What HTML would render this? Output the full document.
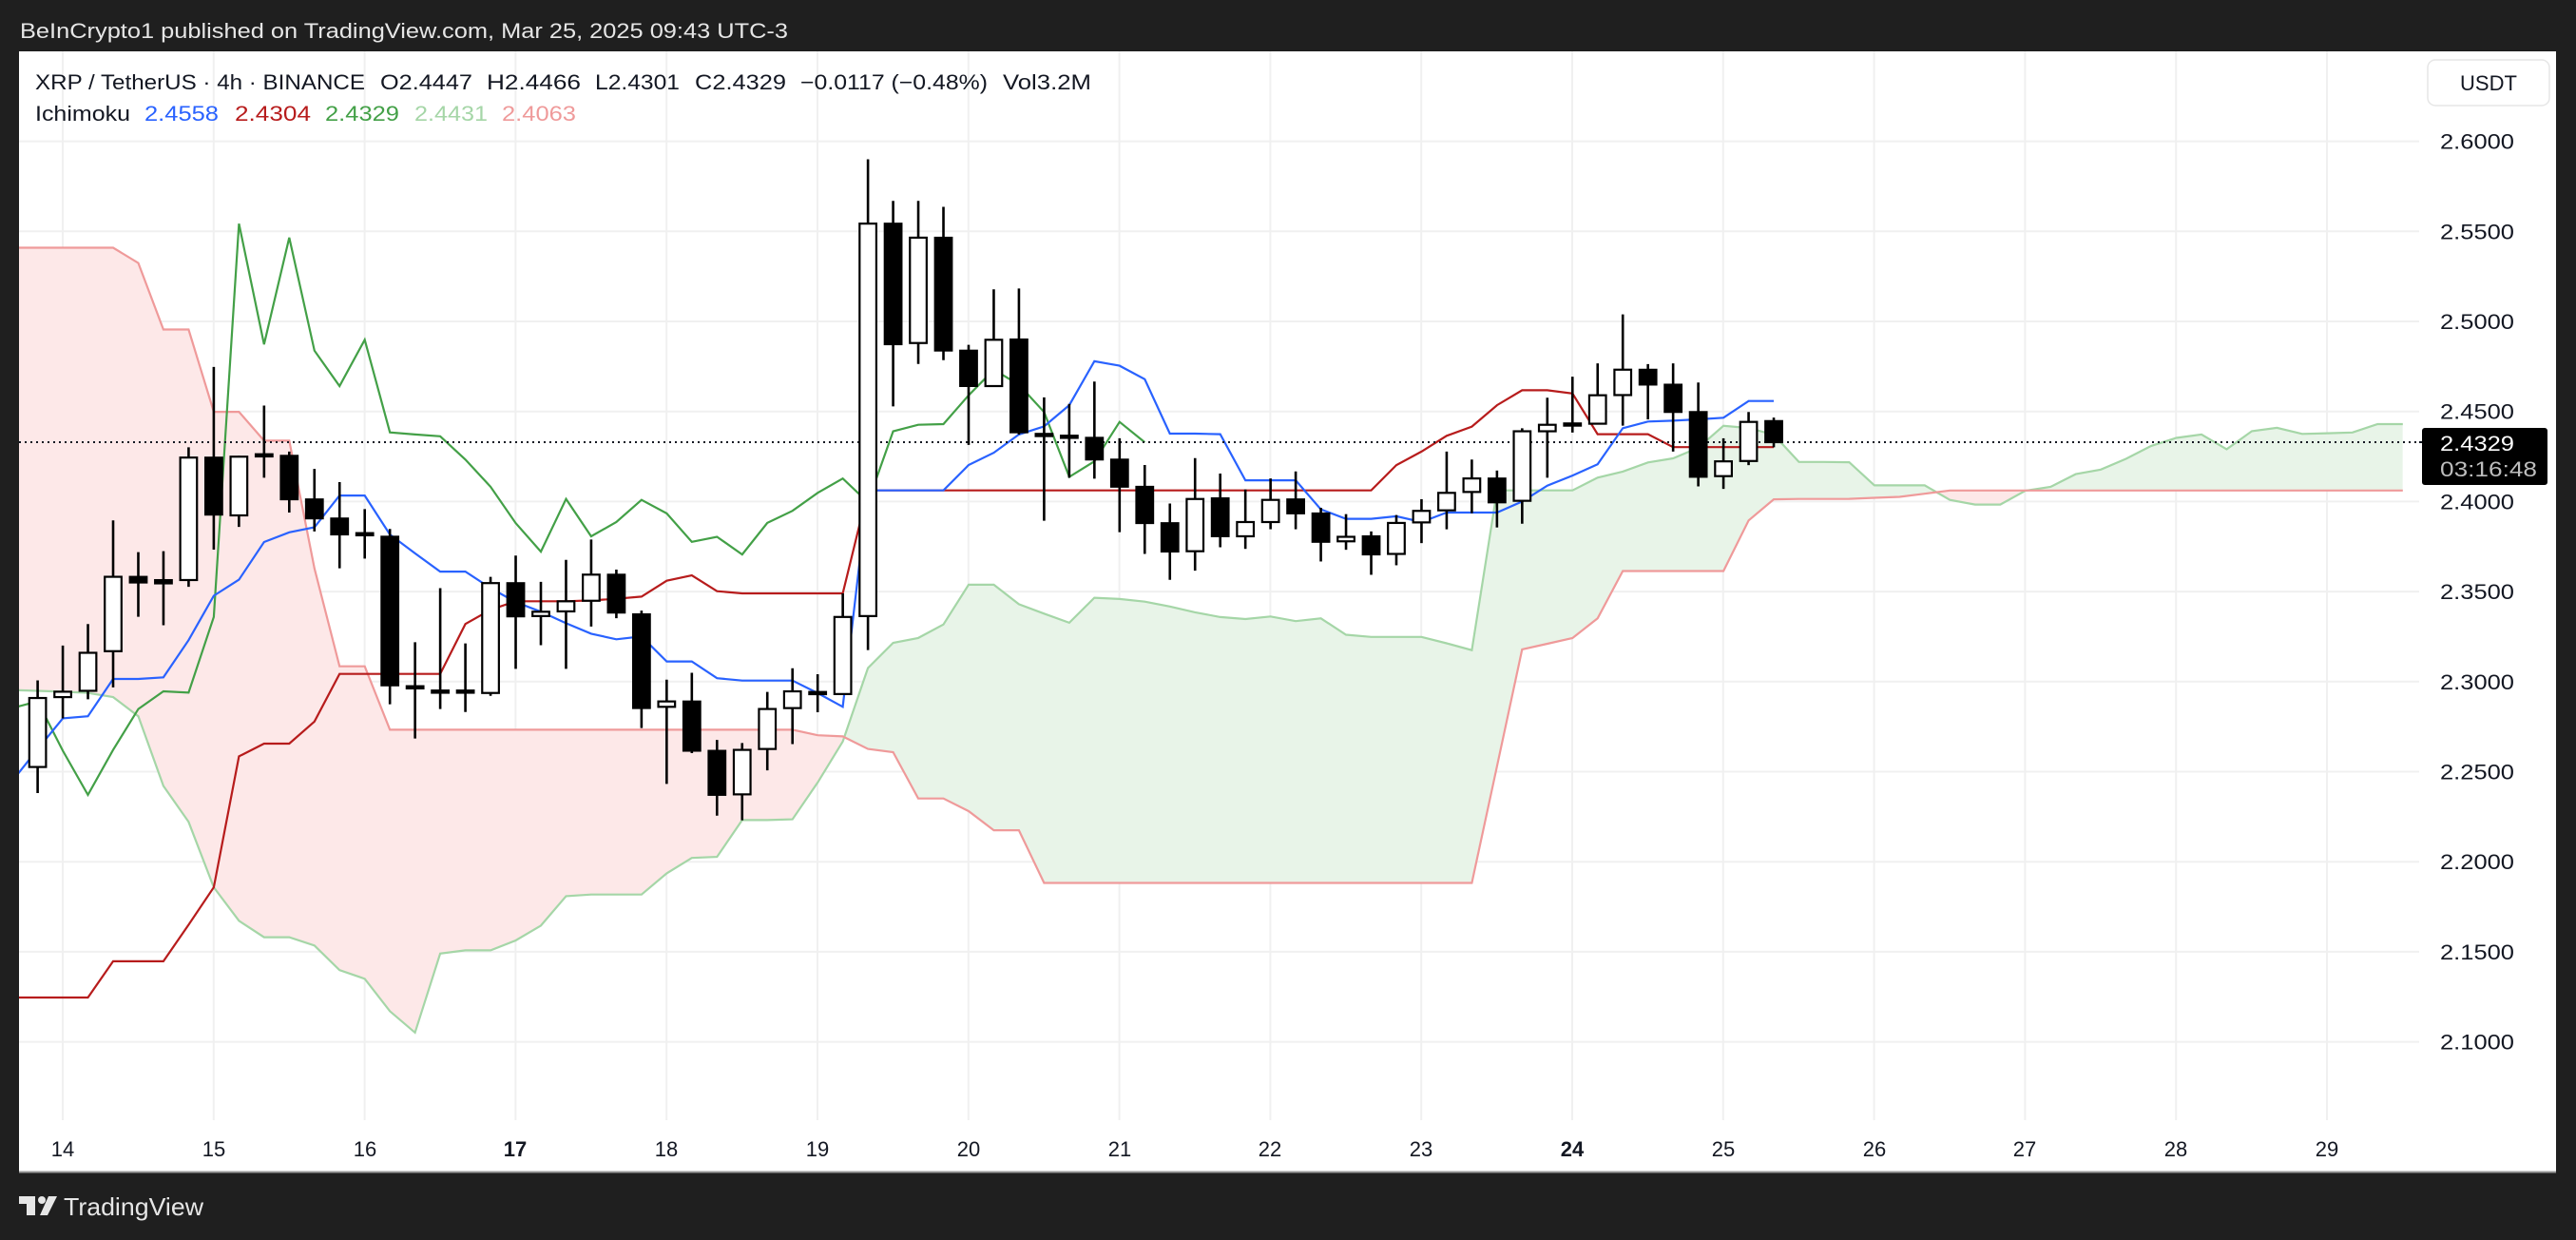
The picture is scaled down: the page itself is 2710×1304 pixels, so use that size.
<!DOCTYPE html>
<html><head><meta charset="utf-8"><style>
html,body{margin:0;padding:0;background:#1f1f1f;width:2710px;height:1304px;overflow:hidden;position:relative}
svg{display:block;position:absolute;left:0;top:0}
text{font-family:"Liberation Sans",sans-serif}
</style></head><body>
<svg id="s" width="2710" height="1304" viewBox="0 0 2710 1304" xmlns="http://www.w3.org/2000/svg">
<rect x="0" y="0" width="2710" height="1304" fill="#1f1f1f"/>
<text x="21" y="40" font-size="22" fill="#e6e6e6" textLength="808" lengthAdjust="spacingAndGlyphs">BeInCrypto1 published on TradingView.com, Mar 25, 2025 09:43 UTC-3</text>
<rect x="20" y="54" width="2669" height="1179" fill="#ffffff"/>
<line x1="20" y1="1232.5" x2="2689" y2="1232.5" stroke="#9a9a9a" stroke-width="2"/>
<g id="grid"></g>
<defs>
<clipPath id="plot"><rect x="20" y="54" width="2525" height="1124"/></clipPath>
<clipPath id="aboveB"><path id="aboveBp"/></clipPath>
<clipPath id="belowB"><path id="belowBp"/></clipPath>
</defs>
<g clip-path="url(#plot)">
<g clip-path="url(#aboveB)"><path id="gfill" fill="#e8f4e8"/></g>
<g clip-path="url(#belowB)"><path id="rfill" fill="#fde8e8"/></g>
<path id="lA" fill="none" stroke="#a5d6a7" stroke-width="2.2"/>
<path id="lB" fill="none" stroke="#ef9a9a" stroke-width="2.2"/>
<path id="lG" fill="none" stroke="#43a047" stroke-width="2.2"/>
<path id="lR" fill="none" stroke="#b71c1c" stroke-width="2.2"/>
<path id="lT" fill="none" stroke="#2962ff" stroke-width="2.2"/>
<line x1="20" y1="465" x2="2545" y2="465" stroke="#131722" stroke-width="2" stroke-dasharray="2,4"/>
<g id="candles"></g>
</g>
<line x1="2545" y1="465" x2="2548" y2="465" stroke="#131722" stroke-width="2"/>
<text x="37" y="94" font-size="22" fill="#131722" textLength="347" lengthAdjust="spacingAndGlyphs">XRP / TetherUS · 4h · BINANCE</text>
<text x="400" y="94" font-size="22" fill="#131722" textLength="97" lengthAdjust="spacingAndGlyphs">O2.4447</text>
<text x="512" y="94" font-size="22" fill="#131722" textLength="99" lengthAdjust="spacingAndGlyphs">H2.4466</text>
<text x="626" y="94" font-size="22" fill="#131722" textLength="89" lengthAdjust="spacingAndGlyphs">L2.4301</text>
<text x="731" y="94" font-size="22" fill="#131722" textLength="96" lengthAdjust="spacingAndGlyphs">C2.4329</text>
<text x="842" y="94" font-size="22" fill="#131722" textLength="197" lengthAdjust="spacingAndGlyphs">−0.0117 (−0.48%)</text>
<text x="1055" y="94" font-size="22" fill="#131722" textLength="93" lengthAdjust="spacingAndGlyphs">Vol3.2M</text>
<text x="37" y="127" font-size="22" fill="#131722" textLength="100" lengthAdjust="spacingAndGlyphs">Ichimoku</text>
<text x="152" y="127" font-size="22" fill="#2962ff" textLength="78" lengthAdjust="spacingAndGlyphs">2.4558</text>
<text x="247" y="127" font-size="22" fill="#b71c1c" textLength="80" lengthAdjust="spacingAndGlyphs">2.4304</text>
<text x="342" y="127" font-size="22" fill="#43a047" textLength="78" lengthAdjust="spacingAndGlyphs">2.4329</text>
<text x="436" y="127" font-size="22" fill="#a5d6a7" textLength="77" lengthAdjust="spacingAndGlyphs">2.4431</text>
<text x="528" y="127" font-size="22" fill="#ef9a9a" textLength="78" lengthAdjust="spacingAndGlyphs">2.4063</text>
<rect x="2554" y="63" width="128" height="48" rx="8" fill="#fff" stroke="#e6e6e6" stroke-width="1.5"/>
<text x="2618" y="95" font-size="22" fill="#131722" text-anchor="middle">USDT</text>
<g id="plabels" font-size="22" fill="#131722"></g>
<rect x="2548" y="450" width="132" height="60" rx="3" fill="#000"/>
<text x="2567" y="474" font-size="22" fill="#fff" textLength="78" lengthAdjust="spacingAndGlyphs">2.4329</text>
<text x="2567" y="501" font-size="22" fill="#bdbdbd" textLength="102" lengthAdjust="spacingAndGlyphs">03:16:48</text>
<g id="dlabels" font-size="22" fill="#131722" text-anchor="middle">
<text x="66" y="1216">14</text><text x="225" y="1216">15</text><text x="384" y="1216">16</text>
<text x="542" y="1216" font-weight="bold">17</text><text x="701" y="1216">18</text><text x="860" y="1216">19</text>
<text x="1019" y="1216">20</text><text x="1178" y="1216">21</text><text x="1336" y="1216">22</text>
<text x="1495" y="1216">23</text><text x="1654" y="1216" font-weight="bold">24</text><text x="1813" y="1216">25</text>
<text x="1972" y="1216">26</text><text x="2130" y="1216">27</text><text x="2289" y="1216">28</text><text x="2448" y="1216">29</text>
</g>
<g fill="#e6e6e6">
<rect x="20" y="1258" width="16" height="8"/><rect x="28" y="1258" width="9" height="20"/>
<circle cx="44" cy="1262" r="4"/><polygon points="51,1258 60,1258 50,1278 42,1278"/>
</g>
<text x="67" y="1278" font-size="26" fill="#e6e6e6" textLength="147" lengthAdjust="spacingAndGlyphs">TradingView</text>
</svg>
<script>
var NS="http://www.w3.org/2000/svg";
function Y(p){return 148.6+(2.6-p)*1894;}
function X(i){return 39.6+i*26.47;}
function el(t,a,parent){var e=document.createElementNS(NS,t);for(var k in a)e.setAttribute(k,a[k]);parent.appendChild(e);return e;}
var grid=document.getElementById('grid');
for(var k=0;k<=10;k++){var p=2.1+k*0.05;var y=Y(p);
 el('line',{x1:20,y1:y,x2:2545,y2:y,stroke:'#f0f0f0','stroke-width':2},grid);
 var t=el('text',{x:2567,y:y+8,textLength:78,lengthAdjust:'spacingAndGlyphs'},document.getElementById('plabels'));t.textContent=p.toFixed(4);}
for(var d=14;d<=29;d++){var x=66+(d-14)*158.8;el('line',{x1:x,y1:54,x2:x,y2:1178,stroke:'#f0f0f0','stroke-width':2},grid);}
var C=[[2.2526,2.3007,2.2381,2.2909],[2.2914,2.3200,2.2796,2.2944],[2.2949,2.3320,2.2902,2.3160],[2.3169,2.3895,2.2968,2.3582],[2.3582,2.3719,2.3360,2.3550],[2.3564,2.3724,2.3313,2.3545],[2.3564,2.4301,2.3526,2.4244],[2.4244,2.4747,2.3733,2.3927],[2.3923,2.4254,2.3859,2.4249],[2.4263,2.4533,2.4132,2.4258],[2.4254,2.4277,2.3939,2.4012],[2.4012,2.4181,2.3834,2.3906],[2.3906,2.4108,2.3629,2.3817],[2.3825,2.3958,2.3683,2.3820],[2.3805,2.3848,2.2874,2.2979],[2.2975,2.3219,2.2684,2.2970],[2.2951,2.3519,2.2848,2.2947],[2.2951,2.3212,2.2831,2.2947],[2.2937,2.3582,2.2921,2.3547],[2.3547,2.3700,2.3071,2.3362],[2.3364,2.3554,2.3202,2.3388],[2.3390,2.3676,2.3071,2.3446],[2.3449,2.3789,2.3306,2.3594],[2.3594,2.3622,2.3352,2.3383],[2.3374,2.3394,2.2742,2.2853],[2.2860,2.3011,2.2432,2.2890],[2.2890,2.3049,2.2603,2.2616],[2.2616,2.2676,2.2256,2.2371],[2.2374,2.2659,2.2230,2.2621],[2.2626,2.2943,2.2507,2.2848],[2.2853,2.3074,2.2653,2.2946],[2.2943,2.3041,2.2830,2.2939],[2.2931,2.3490,2.2931,2.3359],[2.3364,2.5900,2.3175,2.5543],[2.5543,2.5669,2.4528,2.4873],[2.4880,2.5669,2.4764,2.5465],[2.5465,2.5636,2.4785,2.4838],[2.4838,2.4870,2.4314,2.4641],[2.4641,2.5178,2.4641,2.4898],[2.4900,2.5183,2.4372,2.4384],[2.4376,2.4578,2.3893,2.4372],[2.4366,2.4542,2.4132,2.4362],[2.4354,2.4666,2.4127,2.4233],[2.4233,2.4351,2.3830,2.4082],[2.4082,2.4203,2.3709,2.3880],[2.3880,2.3989,2.3565,2.3722],[2.3724,2.4241,2.3616,2.4014],[2.4018,2.4155,2.3746,2.3807],[2.3807,2.4067,2.3737,2.3886],[2.3886,2.4128,2.3846,2.4009],[2.4012,2.4167,2.3846,2.3934],[2.3934,2.3965,2.3667,2.3776],[2.3779,2.3930,2.3732,2.3804],[2.3807,2.3834,2.3593,2.3706],[2.3709,2.3925,2.3646,2.3881],[2.3884,2.4013,2.3769,2.3948],[2.3951,2.4277,2.3846,2.4048],[2.4053,2.4233,2.3935,2.4128],[2.4128,2.4172,2.3856,2.3995],[2.4004,2.4407,2.3877,2.4390],[2.4390,2.4576,2.4132,2.4426],[2.4434,2.4693,2.4383,2.4430],[2.4432,2.4767,2.4432,2.4590],[2.4591,2.5039,2.4421,2.4732],[2.4732,2.4763,2.4456,2.4649],[2.4649,2.4767,2.4277,2.4497],[2.4497,2.4661,2.4084,2.4137],[2.4141,2.4351,2.4070,2.4223],[2.4225,2.4497,2.4202,2.4442],[2.4447,2.4466,2.4301,2.4329]];
var blue=[2.2625,2.2796,2.2808,2.3015,2.3015,2.3024,2.3230,2.3477,2.3566,2.3775,2.3829,2.3857,2.4033,2.4033,2.3817,2.3712,2.3611,2.3611,2.3519,2.3442,2.3388,2.3324,2.3266,2.3235,2.3251,2.3112,2.3112,2.3019,2.3006,2.3006,2.3006,2.2936,2.2860,2.4062,2.4062,2.4062,2.4062,2.4203,2.4271,2.4372,2.4417,2.4535,2.4779,2.4754,2.4679,2.4377,2.4377,2.4374,2.4118,2.4118,2.4118,2.3956,2.3904,2.3904,2.3918,2.3886,2.3939,2.3939,2.3939,2.4000,2.4088,2.4144,2.4207,2.4407,2.4444,2.4449,2.4456,2.4465,2.4558,2.4558];
var red=[2.1246,2.1246,2.1246,2.1447,2.1447,2.1447,2.1650,2.1858,2.2585,2.2656,2.2656,2.2778,2.3043,2.3043,2.3043,2.3043,2.3043,2.3320,2.3399,2.3446,2.3446,2.3446,2.3451,2.3460,2.3472,2.3560,2.3590,2.3502,2.3490,2.3490,2.3490,2.3490,2.3490];
for(var i=33;i<=53;i++)red.push(2.4062);
red=red.concat([2.4202,2.4277,2.4365,2.4416,2.4535,2.4618,2.4618,2.4600,2.4374,2.4374,2.4374,2.4302,2.4302,2.4302,2.4302,2.4302]);
var A0=[2.2949,2.2944,2.2937,2.2914,2.2808,2.2421,2.2221,2.1858,2.1672,2.1581,2.1581,2.1535,2.1398,2.1350,2.1170,2.1051,2.1490,2.1508,2.1508,2.1563,2.1645,2.1809,2.1818,2.1818,2.1818];
var A=[];for(var i=0;i<=94;i++){A[i]= i<25?A0[i]:(blue[i-25]+red[i-25])/2;}
var Bk={0:2.5409,3:2.5409,4:2.5324,5:2.4955,6:2.4955,7:2.4498,8:2.4498,9:2.4338,10:2.4338,11:2.3629,12:2.3085,13:2.3085,14:2.2733,30:2.2733,31:2.2702,32:2.2696,33:2.2626,34:2.2608,35:2.2351,36:2.2351,37:2.2281,38:2.2175,39:2.2175,40:2.1882,57:2.1882,59:2.3179,60:2.3210,61:2.3242,62:2.3351,63:2.3614,67:2.3614,68:2.3895,69:2.4012,70:2.4014,72:2.4015,74:2.4026,76:2.4061,94:2.4061};
var keys=Object.keys(Bk).map(Number).sort(function(a,b){return a-b});var B=[];
for(var i=0;i<=94;i++){for(var k=0;k<keys.length-1;k++){if(i>=keys[k]&&i<=keys[k+1]){var a=keys[k],b=keys[k+1];B[i]=Bk[a]+(Bk[b]-Bk[a])*(i-a)/(b-a);break;}}}
function pts(arr,start,off){var s=[];for(var i=0;i<arr.length;i++)s.push(X(i+off).toFixed(1)+','+Y(arr[i]).toFixed(1));return s;}
function line(id,arr,off,lead){var s=pts(arr,0,off);if(lead!==undefined)s.unshift(X(off-1).toFixed(1)+','+Y(lead).toFixed(1));document.getElementById(id).setAttribute('d','M'+s.join('L'));}
var Ae=[2.2953].concat(A),Be=[2.5409].concat(B);
line('lA',Ae,-1);line('lB',Be,-1);
line('lT',blue,0,2.245);line('lR',red,0,2.1246);
var G=[];for(var i=24;i<=69;i++)G.push(C[i][3]);line('lG',G,-1);
var ap=pts(Ae,0,-1),bp=pts(Be,0,-1);var xe=X(94).toFixed(1),xs=X(-1).toFixed(1);
document.getElementById('gfill').setAttribute('d','M'+ap.join('L')+'L'+xe+',1300L'+xs+',1300Z');
document.getElementById('aboveBp').setAttribute('d','M'+bp.join('L')+'L'+xe+',0L'+xs+',0Z');
document.getElementById('rfill').setAttribute('d','M'+ap.join('L')+'L'+xe+',0L'+xs+',0Z');
document.getElementById('belowBp').setAttribute('d','M'+bp.join('L')+'L'+xe+',1300L'+xs+',1300Z');
var cg=document.getElementById('candles');
C.forEach(function(c,i){var x=X(i),o=c[0],h=c[1],l=c[2],cl=c[3];
 el('line',{x1:x,y1:Y(h),x2:x,y2:Y(l),stroke:'#000','stroke-width':2.6},cg);
 var top=Y(Math.max(o,cl)),bot=Y(Math.min(o,cl));var hgt=Math.max(bot-top,2.5);
 if(cl>=o)el('rect',{x:x-8.8,y:top,width:17.6,height:hgt,fill:'#fff',stroke:'#000','stroke-width':2.2},cg);
 else el('rect',{x:x-9.9,y:top-1,width:19.8,height:hgt+2,fill:'#000'},cg);});
</script>
</body></html>
